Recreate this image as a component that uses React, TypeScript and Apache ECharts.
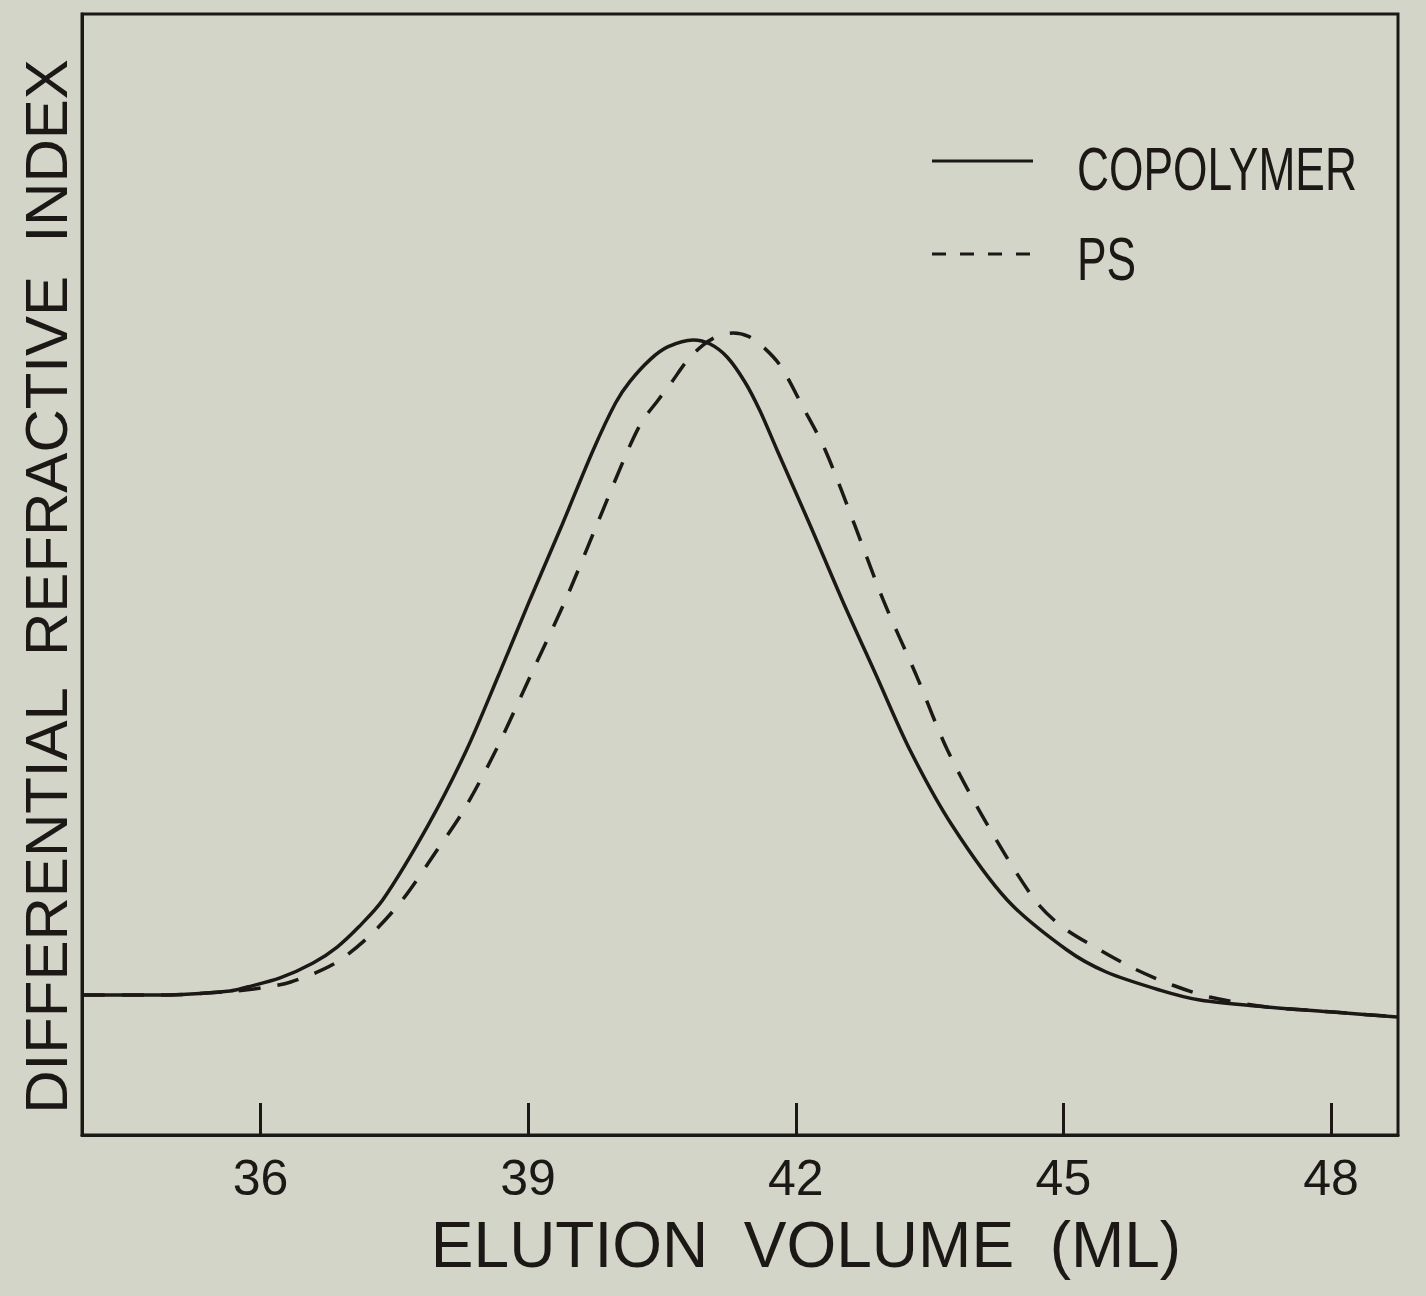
import React, { useEffect, useRef } from 'react';
import * as echarts from 'echarts';

const BG = '#d3d5c8';
const INK = '#1c1816';

const tickVolumes = [36, 39, 42, 45, 48];

const copolymerVolume = [34.01, 34.88, 35.66, 35.85, 36.22, 36.59, 36.86, 37.1, 37.37, 37.88, 38.31, 38.67, 39.02, 39.38, 39.73, 39.98, 40.14, 40.37, 40.57, 40.85, 41.04, 41.23, 41.43, 41.6, 41.79, 42.16, 42.52, 42.9, 43.28, 43.75, 44.37, 45.04, 45.48, 46.08, 46.53, 47.28, 48.02, 48.74];
const copolymerSignal = [12.49, 12.49, 12.85, 13.2, 14.01, 15.34, 16.77, 18.55, 20.96, 27.65, 34.34, 41.03, 47.73, 54.42, 61.11, 65.3, 67.2, 69.19, 70.32, 70.92, 70.56, 69.4, 67.17, 64.58, 61.11, 54.42, 47.73, 41.03, 34.34, 27.65, 20.96, 16.5, 14.54, 12.93, 12.04, 11.42, 10.97, 10.53];

const psVolume = [34.01, 34.88, 35.66, 36.0, 36.34, 36.82, 37.21, 37.59, 37.98, 38.28, 38.64, 39.03, 39.42, 39.77, 40.12, 40.28, 40.45, 40.61, 40.78, 40.96, 41.13, 41.3, 41.47, 41.63, 41.83, 42.08, 42.33, 42.66, 42.98, 43.35, 43.7, 44.15, 44.68, 44.99, 45.41, 45.8, 46.22, 46.64, 47.28, 48.02, 48.74];
const psSignal = [12.49, 12.49, 12.8, 13.11, 13.65, 15.25, 17.66, 20.96, 25.42, 28.99, 34.34, 41.03, 47.73, 54.42, 61.11, 63.69, 65.48, 67.17, 69.05, 70.47, 71.28, 71.54, 71.24, 70.34, 68.6, 64.94, 61.11, 54.42, 47.73, 41.03, 34.34, 27.65, 20.96, 18.55, 16.5, 14.81, 13.38, 12.31, 11.42, 10.97, 10.53];

const seriesNames = ['COPOLYMER', 'PS'];

const FONT = '"Liberation Sans", Arial, sans-serif';

export default function App() {
  const ref = useRef<HTMLDivElement>(null);
  useEffect(() => {
    document.body.style.margin = '0';
    document.body.style.background = BG;
    const chart = echarts.init(ref.current as HTMLDivElement, null, { renderer: 'svg' });
    const copolymerData = copolymerVolume.map((v, i) => [v, copolymerSignal[i]]);
    const psData = psVolume.map((v, i) => [v, psSignal[i]]);
    chart.setOption({
      animation: false,
      backgroundColor: BG,
      textStyle: { fontFamily: FONT },
      grid: {
        left: 82,
        right: 28,
        top: 14,
        bottom: 161,
        show: true,
        borderColor: INK,
        borderWidth: 3,
        backgroundColor: 'transparent',
      },
      xAxis: {
        type: 'value',
        min: 34,
        max: 48.75,
        name: 'ELUTION  VOLUME  (ML)',
        nameLocation: 'middle',
        nameGap: 78,
        nameTextStyle: { fontSize: 64, color: INK, fontFamily: FONT, padding: [0, 0, 0, 132] },
        axisLine: { show: true, lineStyle: { color: INK, width: 3 } },
        axisTick: { show: true, inside: true, length: 32, lineStyle: { color: INK, width: 3 }, customValues: tickVolumes },
        axisLabel: { show: true, customValues: tickVolumes, fontSize: 50, color: INK, margin: 18, fontFamily: FONT },
        splitLine: { show: false },
      },
      yAxis: {
        type: 'value',
        min: 0,
        max: 100,
        name: 'DIFFERENTIAL  REFRACTIVE  INDEX',
        nameLocation: 'middle',
        nameGap: 6,
        nameTextStyle: { fontSize: 60, color: INK, fontFamily: FONT, padding: [0, 24, 0, 0] },
        axisLine: { show: true, lineStyle: { color: INK, width: 3 } },
        axisTick: { show: false },
        axisLabel: { show: false },
        splitLine: { show: false },
      },
      series: [
        {
          name: seriesNames[0],
          type: 'line',
          data: copolymerData,
          showSymbol: false,
          symbol: 'none',
          smooth: 0.3,
          lineStyle: { color: INK, width: 3.5, type: 'solid' },
          z: 3,
        },
        {
          name: seriesNames[1],
          type: 'line',
          data: psData,
          showSymbol: false,
          symbol: 'none',
          smooth: 0.3,
          lineStyle: { color: INK, width: 3.5, type: [22, 17] },
          z: 2,
        },
      ],
      graphic: [
        {
          type: 'line',
          shape: { x1: 932, y1: 161, x2: 1033, y2: 161 },
          style: { stroke: INK, lineWidth: 3 },
        },
        {
          type: 'line',
          shape: { x1: 932, y1: 254, x2: 1032, y2: 254 },
          style: { stroke: INK, lineWidth: 3, lineDash: [14, 14] },
        },
        {
          type: 'text',
          x: 1077,
          y: 168,
          scaleX: 0.715,
          style: {
            text: seriesNames[0],
            fill: INK,
            font: '62px ' + FONT,
            textAlign: 'left',
            align: 'left',
            textVerticalAlign: 'middle',
            verticalAlign: 'middle',
          },
        },
        {
          type: 'text',
          x: 1077,
          y: 258,
          scaleX: 0.715,
          style: {
            text: seriesNames[1],
            fill: INK,
            font: '62px ' + FONT,
            textAlign: 'left',
            align: 'left',
            textVerticalAlign: 'middle',
            verticalAlign: 'middle',
          },
        },
      ],
    });
    return () => chart.dispose();
  }, []);
  return <div ref={ref} style={{ width: 1426, height: 1296, background: BG }} />;
}
